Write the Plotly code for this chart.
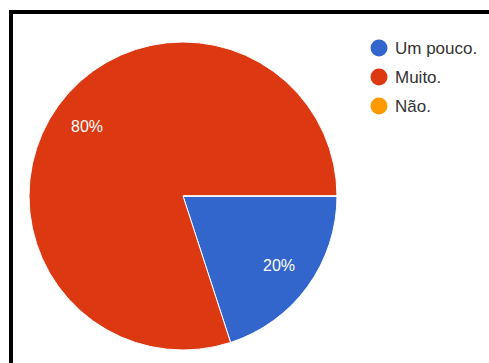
import math
import plotly.graph_objects as go

# Survey answers and their counts
labels = ["Um pouco.", "Muito.", "Não."]
values = [1, 4, 0]
colors = ["#3366CC", "#DC3912", "#FF9900"]

W, H = 489, 363
# pie geometry in pixels (centre and radius)
CX, CY, R = 183, 196, 154

fig = go.Figure(
    go.Pie(
        labels=labels,
        values=values,
        sort=False,
        direction="clockwise",
        rotation=90,
        textinfo="none",
        hoverinfo="label+percent",
        showlegend=False,
        marker=dict(colors=colors, line=dict(color="white", width=1)),
        domain=dict(
            x=[(CX - R) / W, (CX + R) / W],
            y=[(H - (CY + R)) / H, (H - (CY - R)) / H],
        ),
    )
)

annotations = []
shapes = []

# percentage labels placed at the middle of each slice
total = sum(values)
cum = 0.0
for v in values:
    if v <= 0:
        continue
    mid = (cum + v / 2) / total
    cum += v
    theta = 2 * math.pi * mid  # clockwise from 3 o'clock
    px = CX + 0.77 * R * math.cos(theta)
    py = CY + 0.77 * R * math.sin(theta)
    annotations.append(dict(
        x=px / W, y=1 - py / H, xref="paper", yref="paper",
        text=f"{round(100 * v / total)}%", showarrow=False,
        font=dict(family="Arial, Liberation Sans, sans-serif", size=16, color="white"),
        xanchor="center", yanchor="middle",
    ))

# legend with round markers
LX, LY0, LDY, DOT = 379, 48, 29, 17
for i, (lab, col) in enumerate(zip(labels, colors)):
    y = LY0 + i * LDY
    shapes.append(dict(
        type="circle", xref="paper", yref="paper",
        xsizemode="pixel", ysizemode="pixel",
        xanchor=LX / W, yanchor=1 - y / H,
        x0=-DOT / 2, x1=DOT / 2, y0=-DOT / 2, y1=DOT / 2,
        fillcolor=col, line=dict(width=0),
    ))
    annotations.append(dict(
        x=(LX + 14) / W, y=1 - y / H, xref="paper", yref="paper",
        text=lab, showarrow=False, xanchor="left", yanchor="middle",
        font=dict(family="Arial, Liberation Sans, sans-serif", size=17, color="#333333"),
    ))

# frame along the top and left edges
shapes.append(dict(type="line", xref="paper", yref="paper",
                   x0=9 / W, x1=1, y0=1 - 12 / H, y1=1 - 12 / H,
                   line=dict(color="black", width=4)))
shapes.append(dict(type="line", xref="paper", yref="paper",
                   x0=11 / W, x1=11 / W, y0=1 - 10 / H, y1=0,
                   line=dict(color="black", width=4)))

fig.update_layout(
    width=W, height=H,
    margin=dict(l=0, r=0, t=0, b=0),
    paper_bgcolor="white",
    plot_bgcolor="white",
    annotations=annotations,
    shapes=shapes,
)

fig.write_html("out.html")
